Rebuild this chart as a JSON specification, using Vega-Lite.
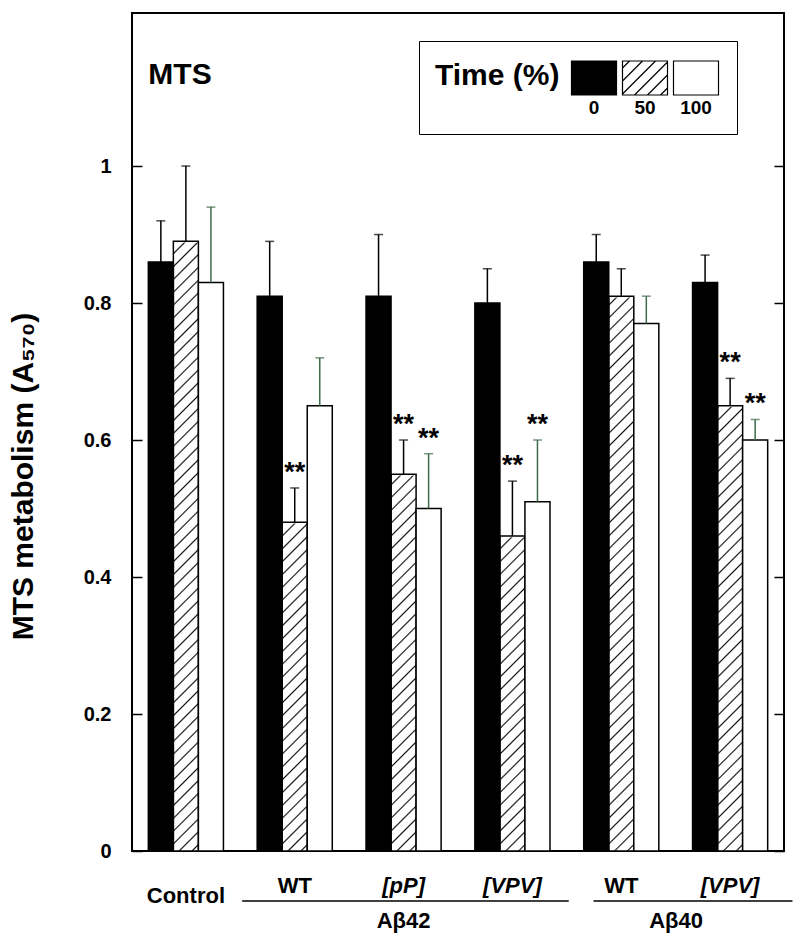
{
"$schema": "https://vega.github.io/schema/vega-lite/v6.json",
"width": 652, "height": 838,
"autosize": {"type": "none"},
"padding": {"left": 132, "top": 13, "right": 16, "bottom": 88},
"background": "white",
"config": {"font": "Liberation Sans", "view": {"stroke": "black", "strokeWidth": 2}},
"resolve": {"axis": {"y": "independent"}},
"data": {"values": [
{"group": "C", "time": "0", "value": 0.86, "hi": 0.92, "stars": ""},
{"group": "C", "time": "50", "value": 0.89, "hi": 1.00, "stars": ""},
{"group": "C", "time": "100", "value": 0.83, "hi": 0.94, "stars": ""},
{"group": "WT42", "time": "0", "value": 0.81, "hi": 0.89, "stars": ""},
{"group": "WT42", "time": "50", "value": 0.48, "hi": 0.53, "stars": "**"},
{"group": "WT42", "time": "100", "value": 0.65, "hi": 0.72, "stars": ""},
{"group": "pP42", "time": "0", "value": 0.81, "hi": 0.90, "stars": ""},
{"group": "pP42", "time": "50", "value": 0.55, "hi": 0.60, "stars": "**"},
{"group": "pP42", "time": "100", "value": 0.50, "hi": 0.58, "stars": "**"},
{"group": "VPV42", "time": "0", "value": 0.80, "hi": 0.85, "stars": ""},
{"group": "VPV42", "time": "50", "value": 0.46, "hi": 0.54, "stars": "**"},
{"group": "VPV42", "time": "100", "value": 0.51, "hi": 0.60, "stars": "**"},
{"group": "WT40", "time": "0", "value": 0.86, "hi": 0.90, "stars": ""},
{"group": "WT40", "time": "50", "value": 0.81, "hi": 0.85, "stars": ""},
{"group": "WT40", "time": "100", "value": 0.77, "hi": 0.81, "stars": ""},
{"group": "VPV40", "time": "0", "value": 0.83, "hi": 0.87, "stars": ""},
{"group": "VPV40", "time": "50", "value": 0.65, "hi": 0.69, "stars": "**"},
{"group": "VPV40", "time": "100", "value": 0.60, "hi": 0.63, "stars": "**"}
]},
"layer": [
{
"transform": [{"filter": "datum.time === '50'"}],
"mark": {"type": "bar", "strokeWidth": 0, "fill": {"gradient": "linear", "x1": 0, "y1": 0, "x2": 0.0421, "y2": 1.0389, "stops": [
{"offset":0.0075,"color":"#fff"},{"offset":0.01,"color":"#111"},{"offset":0.0125,"color":"#fff"},
{"offset":0.0275,"color":"#fff"},{"offset":0.03,"color":"#111"},{"offset":0.0325,"color":"#fff"},
{"offset":0.0475,"color":"#fff"},{"offset":0.05,"color":"#111"},{"offset":0.0525,"color":"#fff"},
{"offset":0.0675,"color":"#fff"},{"offset":0.07,"color":"#111"},{"offset":0.0725,"color":"#fff"},
{"offset":0.0875,"color":"#fff"},{"offset":0.09,"color":"#111"},{"offset":0.0925,"color":"#fff"},
{"offset":0.1075,"color":"#fff"},{"offset":0.11,"color":"#111"},{"offset":0.1125,"color":"#fff"},
{"offset":0.1275,"color":"#fff"},{"offset":0.13,"color":"#111"},{"offset":0.1325,"color":"#fff"},
{"offset":0.1475,"color":"#fff"},{"offset":0.15,"color":"#111"},{"offset":0.1525,"color":"#fff"},
{"offset":0.1675,"color":"#fff"},{"offset":0.17,"color":"#111"},{"offset":0.1725,"color":"#fff"},
{"offset":0.1875,"color":"#fff"},{"offset":0.19,"color":"#111"},{"offset":0.1925,"color":"#fff"},
{"offset":0.2075,"color":"#fff"},{"offset":0.21,"color":"#111"},{"offset":0.2125,"color":"#fff"},
{"offset":0.2275,"color":"#fff"},{"offset":0.23,"color":"#111"},{"offset":0.2325,"color":"#fff"},
{"offset":0.2475,"color":"#fff"},{"offset":0.25,"color":"#111"},{"offset":0.2525,"color":"#fff"},
{"offset":0.2675,"color":"#fff"},{"offset":0.27,"color":"#111"},{"offset":0.2725,"color":"#fff"},
{"offset":0.2875,"color":"#fff"},{"offset":0.29,"color":"#111"},{"offset":0.2925,"color":"#fff"},
{"offset":0.3075,"color":"#fff"},{"offset":0.31,"color":"#111"},{"offset":0.3125,"color":"#fff"},
{"offset":0.3275,"color":"#fff"},{"offset":0.33,"color":"#111"},{"offset":0.3325,"color":"#fff"},
{"offset":0.3475,"color":"#fff"},{"offset":0.35,"color":"#111"},{"offset":0.3525,"color":"#fff"},
{"offset":0.3675,"color":"#fff"},{"offset":0.37,"color":"#111"},{"offset":0.3725,"color":"#fff"},
{"offset":0.3875,"color":"#fff"},{"offset":0.39,"color":"#111"},{"offset":0.3925,"color":"#fff"},
{"offset":0.4075,"color":"#fff"},{"offset":0.41,"color":"#111"},{"offset":0.4125,"color":"#fff"},
{"offset":0.4275,"color":"#fff"},{"offset":0.43,"color":"#111"},{"offset":0.4325,"color":"#fff"},
{"offset":0.4475,"color":"#fff"},{"offset":0.45,"color":"#111"},{"offset":0.4525,"color":"#fff"},
{"offset":0.4675,"color":"#fff"},{"offset":0.47,"color":"#111"},{"offset":0.4725,"color":"#fff"},
{"offset":0.4875,"color":"#fff"},{"offset":0.49,"color":"#111"},{"offset":0.4925,"color":"#fff"},
{"offset":0.5075,"color":"#fff"},{"offset":0.51,"color":"#111"},{"offset":0.5125,"color":"#fff"},
{"offset":0.5275,"color":"#fff"},{"offset":0.53,"color":"#111"},{"offset":0.5325,"color":"#fff"},
{"offset":0.5475,"color":"#fff"},{"offset":0.55,"color":"#111"},{"offset":0.5525,"color":"#fff"},
{"offset":0.5675,"color":"#fff"},{"offset":0.57,"color":"#111"},{"offset":0.5725,"color":"#fff"},
{"offset":0.5875,"color":"#fff"},{"offset":0.59,"color":"#111"},{"offset":0.5925,"color":"#fff"},
{"offset":0.6075,"color":"#fff"},{"offset":0.61,"color":"#111"},{"offset":0.6125,"color":"#fff"},
{"offset":0.6275,"color":"#fff"},{"offset":0.63,"color":"#111"},{"offset":0.6325,"color":"#fff"},
{"offset":0.6475,"color":"#fff"},{"offset":0.65,"color":"#111"},{"offset":0.6525,"color":"#fff"},
{"offset":0.6675,"color":"#fff"},{"offset":0.67,"color":"#111"},{"offset":0.6725,"color":"#fff"},
{"offset":0.6875,"color":"#fff"},{"offset":0.69,"color":"#111"},{"offset":0.6925,"color":"#fff"},
{"offset":0.7075,"color":"#fff"},{"offset":0.71,"color":"#111"},{"offset":0.7125,"color":"#fff"},
{"offset":0.7275,"color":"#fff"},{"offset":0.73,"color":"#111"},{"offset":0.7325,"color":"#fff"},
{"offset":0.7475,"color":"#fff"},{"offset":0.75,"color":"#111"},{"offset":0.7525,"color":"#fff"},
{"offset":0.7675,"color":"#fff"},{"offset":0.77,"color":"#111"},{"offset":0.7725,"color":"#fff"},
{"offset":0.7875,"color":"#fff"},{"offset":0.79,"color":"#111"},{"offset":0.7925,"color":"#fff"},
{"offset":0.8075,"color":"#fff"},{"offset":0.81,"color":"#111"},{"offset":0.8125,"color":"#fff"},
{"offset":0.8275,"color":"#fff"},{"offset":0.83,"color":"#111"},{"offset":0.8325,"color":"#fff"},
{"offset":0.8475,"color":"#fff"},{"offset":0.85,"color":"#111"},{"offset":0.8525,"color":"#fff"},
{"offset":0.8675,"color":"#fff"},{"offset":0.87,"color":"#111"},{"offset":0.8725,"color":"#fff"},
{"offset":0.8875,"color":"#fff"},{"offset":0.89,"color":"#111"},{"offset":0.8925,"color":"#fff"},
{"offset":0.9075,"color":"#fff"},{"offset":0.91,"color":"#111"},{"offset":0.9125,"color":"#fff"},
{"offset":0.9275,"color":"#fff"},{"offset":0.93,"color":"#111"},{"offset":0.9325,"color":"#fff"},
{"offset":0.9475,"color":"#fff"},{"offset":0.95,"color":"#111"},{"offset":0.9525,"color":"#fff"},
{"offset":0.9675,"color":"#fff"},{"offset":0.97,"color":"#111"},{"offset":0.9725,"color":"#fff"},
{"offset":0.9875,"color":"#fff"},{"offset":0.99,"color":"#111"},{"offset":0.9925,"color":"#fff"}
]}},
"encoding": {
"x": {"field": "group", "type": "nominal", "scale": {"domain": ["C", "WT42", "pP42", "VPV42", "WT40", "VPV40"], "paddingInner": 0.31, "paddingOuter": 0.15},
 "axis": {"title": null, "ticks": false, "domain": false, "labelAngle": 0, "labelFontSize": 22, "labelFontWeight": "bold", "labelColor": "black", "labelBaseline": "top", "labelLimit": 200,
  "labelExpr": "datum.value === 'C' ? 'Control' : datum.value === 'WT42' ? 'WT' : datum.value === 'pP42' ? '[pP]' : datum.value === 'WT40' ? 'WT' : '[VPV]'",
  "labelPadding": {"condition": {"test": "datum.value === 'C'", "value": 34}, "value": 24},
  "labelFontStyle": {"condition": {"test": "datum.value === 'pP42' || datum.value === 'VPV42' || datum.value === 'VPV40'", "value": "italic"}, "value": "normal"}}},
"xOffset": {"field": "time", "type": "nominal", "scale": {"domain": ["0", "50", "100"], "paddingInner": 0, "paddingOuter": 0}},
"y": {"datum": 0, "type": "quantitative", "scale": {"domain": [0, 1.2234], "nice": false, "zero": false}, "axis": null},
"y2": {"datum": 0.9}
}
},
{
"transform": [{"filter": "datum.time === '50'"}],
"mark": {"type": "bar", "fill": "white", "stroke": "white", "strokeWidth": 2.5},
"encoding": {
"x": {"field": "group", "type": "nominal"},
"xOffset": {"field": "time", "type": "nominal"},
"y": {"field": "value", "type": "quantitative", "axis": null},
"y2": {"datum": 0.9}
}
},
{
"mark": {"type": "bar", "stroke": "black", "strokeWidth": 1.5},
"encoding": {
"x": {"field": "group", "type": "nominal"},
"xOffset": {"field": "time", "type": "nominal"},
"y": {"field": "value", "type": "quantitative",
 "axis": {"orient": "left", "values": [0, 0.2, 0.4, 0.6, 0.8, 1], "format": "~g", "grid": false, "domain": false,
  "tickSize": -10, "tickWidth": 1.5, "tickColor": "black", "labelPadding": 31,
  "labelFontSize": 20, "labelFontWeight": "bold", "labelColor": "black",
  "title": "MTS metabolism (A₅₇₀)", "titleFontSize": 30, "titleFontWeight": "bold", "titleColor": "black",
  "titleX": -100, "titleY": 463, "titleBaseline": "alphabetic", "titleAngle": 270}},
"fill": {"condition": [{"test": "datum.time === '0'", "value": "black"}, {"test": "datum.time === '50'", "value": "transparent"}], "value": "white"}
}
},
{
"mark": {"type": "rule", "strokeWidth": 1.5},
"encoding": {
"x": {"field": "group", "type": "nominal"},
"xOffset": {"field": "time", "type": "nominal"},
"y": {"field": "value", "type": "quantitative",
 "axis": {"orient": "right", "values": [0, 0.2, 0.4, 0.6, 0.8, 1], "labels": false, "grid": false, "domain": false, "tickSize": -10, "tickWidth": 1.5, "tickColor": "black", "title": null}},
"y2": {"field": "hi"},
"color": {"condition": {"test": "datum.time === '100'", "value": "#3c6b48"}, "value": "black"}
}
},
{
"mark": {"type": "tick", "thickness": 1.5, "size": 9},
"encoding": {
"x": {"field": "group", "type": "nominal"},
"xOffset": {"field": "time", "type": "nominal"},
"y": {"field": "hi", "type": "quantitative", "axis": null},
"color": {"condition": {"test": "datum.time === '100'", "value": "#3c6b48"}, "value": "black"}
}
},
{
"transform": [{"filter": "datum.stars !== ''"}],
"mark": {"type": "text", "fontSize": 27, "fontWeight": "bold", "baseline": "middle", "dy": -15, "color": "black"},
"encoding": {
"x": {"field": "group", "type": "nominal"},
"xOffset": {"field": "time", "type": "nominal"},
"y": {"field": "hi", "type": "quantitative", "axis": null},
"text": {"field": "stars"}
}
},
{
"data": {"values": [{"label": "MTS"}]},
"mark": {"type": "text", "fontSize": 30, "fontWeight": "bold", "align": "left", "baseline": "middle", "color": "black"},
"encoding": {
"x": {"datum": "C", "type": "nominal", "bandPosition": 0},
"y": {"datum": 1.133, "type": "quantitative", "axis": null},
"text": {"field": "label"}
}
},
{
"data": {"values": [{"label": "Aβ42"}]},
"mark": {"type": "rule", "strokeWidth": 1.5, "color": "black"},
"encoding": {
"x": {"datum": "WT42", "type": "nominal", "bandPosition": -0.2},
"x2": {"datum": "VPV42", "bandPosition": 1.25},
"y": {"datum": -0.073, "type": "quantitative", "axis": null}
}
},
{
"data": {"values": [{"label": "Aβ42"}]},
"mark": {"type": "text", "fontSize": 22, "fontWeight": "bold", "baseline": "middle", "color": "black"},
"encoding": {
"x": {"datum": "pP42", "type": "nominal"},
"y": {"datum": -0.102, "type": "quantitative", "axis": null},
"text": {"field": "label"}
}
},
{
"data": {"values": [{"label": "Aβ40"}]},
"mark": {"type": "rule", "strokeWidth": 1.5, "color": "black"},
"encoding": {
"x": {"datum": "WT40", "type": "nominal", "bandPosition": 0.13},
"x2": {"datum": "VPV40", "bandPosition": 1.33},
"y": {"datum": -0.073, "type": "quantitative", "axis": null}
}
},
{
"data": {"values": [{"label": "Aβ40"}]},
"mark": {"type": "text", "fontSize": 22, "fontWeight": "bold", "baseline": "middle", "color": "black"},
"encoding": {
"x": {"datum": "WT40", "type": "nominal", "bandPosition": 1.23},
"y": {"datum": -0.102, "type": "quantitative", "axis": null},
"text": {"field": "label"}
}
},
{
"data": {"values": [{"time": "0"}, {"time": "50"}, {"time": "100"}]},
"mark": {"type": "point", "filled": true, "size": 1600, "strokeWidth": 1.2},
"encoding": {
"x": {"datum": "C", "type": "nominal"},
"y": {"datum": -3, "type": "quantitative", "axis": null},
"fill": {"field": "time", "type": "nominal", "scale": {"domain": ["0", "50", "100"], "range": ["black", "white", "white"]},
 "legend": {"orient": "none", "legendX": 287, "legendY": 28, "direction": "horizontal",
  "title": "Time (%)", "titleOrient": "left", "titleFontSize": 30, "titleFontWeight": "bold", "titleColor": "black",
  "titleAnchor": "start", "titleBaseline": "line-top", "titleLineHeight": 39, "titlePadding": 13,
  "labelExpr": "['', datum.label]", "labelFontSize": 19, "labelFontWeight": "bold", "labelColor": "black", "labelAlign": "center", "labelBaseline": "top", "labelOffset": -21,
  "symbolSize": 1600, "symbolStrokeWidth": 1.2, "symbolOpacity": 1,
  "columnPadding": 1, "padding": 16, "strokeColor": "black"}},
"stroke": {"field": "time", "type": "nominal", "scale": {"domain": ["0", "50", "100"], "range": ["black", "black", "black"]},
 "legend": {"orient": "none", "legendX": 287, "legendY": 28, "direction": "horizontal",
  "title": "Time (%)", "titleOrient": "left", "titleFontSize": 30, "titleFontWeight": "bold", "titleColor": "black",
  "titleAnchor": "start", "titleBaseline": "line-top", "titleLineHeight": 39, "titlePadding": 13,
  "labelExpr": "['', datum.label]", "labelFontSize": 19, "labelFontWeight": "bold", "labelColor": "black", "labelAlign": "center", "labelBaseline": "top", "labelOffset": -21,
  "symbolSize": 1600, "symbolStrokeWidth": 1.2, "symbolOpacity": 1,
  "columnPadding": 1, "padding": 16, "strokeColor": "black"}},
"shape": {"field": "time", "type": "nominal", "scale": {"domain": ["0", "50", "100"], "range": [
  "M-1.125,-0.85H1.125V0.85H-1.125Z",
  "M-1.125,-0.85H1.125V0.85H-1.125Z M-1.125,-0.5L-0.775,-0.85 M-1.125,0.15L-0.125,-0.85 M-1.125,0.8L0.525,-0.85 M-0.525,0.85L1.125,-0.8 M0.125,0.85L1.125,-0.15 M0.775,0.85L1.125,0.5",
  "M-1.125,-0.85H1.125V0.85H-1.125Z"]},
 "legend": {"orient": "none", "legendX": 287, "legendY": 28, "direction": "horizontal",
  "title": "Time (%)", "titleOrient": "left", "titleFontSize": 30, "titleFontWeight": "bold", "titleColor": "black",
  "titleAnchor": "start", "titleBaseline": "line-top", "titleLineHeight": 39, "titlePadding": 13,
  "labelExpr": "['', datum.label]", "labelFontSize": 19, "labelFontWeight": "bold", "labelColor": "black", "labelAlign": "center", "labelBaseline": "top", "labelOffset": -21,
  "symbolSize": 1600, "symbolStrokeWidth": 1.2, "symbolOpacity": 1,
  "columnPadding": 1, "padding": 16, "strokeColor": "black"}}
}
}
]
}
